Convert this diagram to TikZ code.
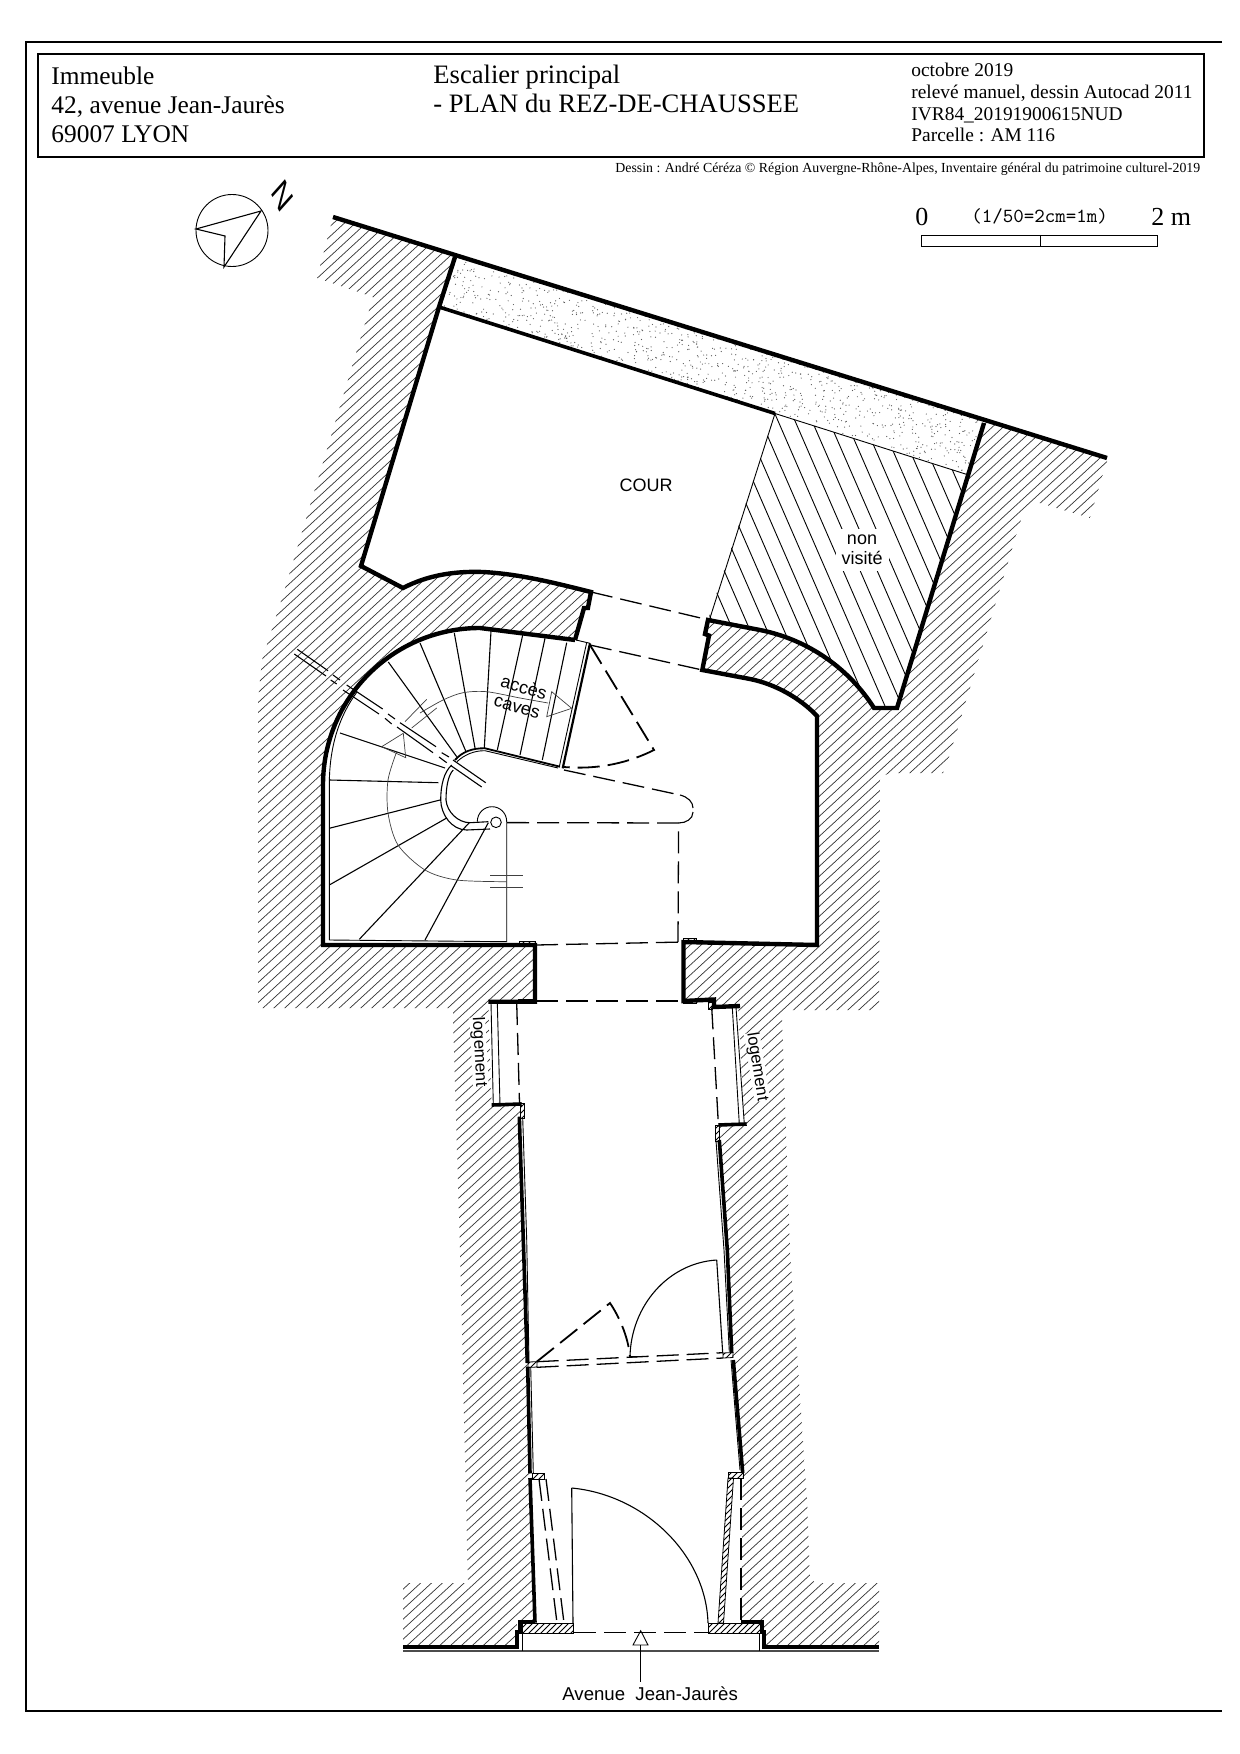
\documentclass[tikz,border=0pt]{standalone}
\usepackage{fontspec}
\setmainfont{Liberation Serif}
\setsansfont{Liberation Sans}
\usetikzlibrary{patterns}
\newcommand{\fs}[1]{\fontsize{#1}{#1}\selectfont}

\begin{document}
\begin{tikzpicture}[x=0.5pt, y=-0.5pt,
	frameline/.style = {line width=0.9pt},
	wall/.style = {line width=2.2pt, line join=miter},
	wallb/.style = {line width=1.8pt, line join=miter},
	fine/.style = {line width=0.45pt},
	step line/.style = {line width=0.55pt},
	walk/.style = {line width=0.35pt, black!75},
	hatchline/.style = {line width=0.35pt, black!80},
	dashline/.style = {line width=0.65pt, dash pattern=on 11pt off 4pt},
	doorline/.style = {line width=0.9pt, dash pattern=on 11pt off 4pt},
	jamb/.style = {draw, line width=0.4pt, pattern=north east lines},
	serif/.style = {anchor=base west, inner sep=0pt},
	label/.style = {font=\sffamily\fs{9}, inner sep=0pt}]
	\useasboundingbox (0,0) rectangle (1240,1754);

	\draw[frameline] (1222,42) -- (26,42) -- (26,1711) -- (1222,1711);
	\draw[frameline] (38,54) rectangle (1204,157);

	\node[serif, font=\fs{12.7}] (imm1) at (51,85) {Immeuble};
	\node[serif, font=\fs{12.7}] (imm2) at (51,114) {42, avenue Jean-Jaurès};
	\node[serif, font=\fs{12.7}] (imm3) at (51,143) {69007 LYON};
	\node[serif, font=\fs{13.3}] (esc1) at (433,84) {Escalier principal};
	\node[serif, font=\fs{13.3}] (esc2) at (433,113) {- PLAN du REZ-DE-CHAUSSEE};
	\node[serif, font=\fs{9.7}] (info1) at (911,77) {octobre 2019};
	\node[serif, font=\fs{9.7}] (info2) at (911,99) {relevé manuel, dessin Autocad 2011};
	\node[serif, font=\fs{9.7}] (info3) at (911,121) {IVR84\_20191900615NUD};
	\node[serif, font=\fs{9.7}] (info4) at (911,142) {Parcelle : AM 116};
	\node[serif, font=\fs{6.92}] (credit) at (615,173) {Dessin : André Céréza © Région Auvergne-Rhône-Alpes, Inventaire général du patrimoine culturel-2019};

	\draw[fine] (232,230.5) circle[radius=36];
	\draw[step line] (224,267) -- (261,211) -- (196,229) -- (225,236) -- cycle;
	\node[font=\sffamily\fs{19}, xscale=0.65, rotate=-54, inner sep=0pt] (north) at (283,196) {N};

	\node[serif, font=\fs{13}] (zero) at (915,226) {0};
	\node[anchor=base west, inner sep=0pt, font=\ttfamily\fs{10}] (ratio) at (971,223) {(1/50=2cm=1m)};
	\node[serif, font=\fs{13}] (twom) at (1151,226) {2 m};
	\draw[fine] (921,235) rectangle (1157,246);
	\draw[fine] (1040,235) -- (1040,246);

	\begin{scope}
		\clip (333,217) -- (317,278) -- (373,297) -- (283,595) -- (262,660) -- (258,700) -- (258,1008) -- (453,1008) -- (453,1018) -- (460,1250) -- (468,1583) -- (403,1583) -- (403,1647) -- (879,1647) -- (879,1583) -- (819,1583) -- (810,1580) -- (807,1500) -- (790,1250) -- (782,1018) -- (787,1010) -- (879,1010) -- (880,777) -- (890,773) -- (943,773) -- (950,754) -- (1023,513) -- (1033,501) -- (1090,518) -- (1103,474) -- (1108,458) -- cycle;
		\foreach \c in {470,480,...,2900}
			\draw[hatchline] (200,\c-184) -- (1200,\c-1104);
	\end{scope}

	\fill[white] (455,257) -- (984,423) -- (897,708) -- (874,708) .. controls (850,670) and (810,640) .. (760,630) -- (708,620) -- (705,634) -- (709,635.6) -- (702.3,670) -- (750,679) .. controls (775,684) and (800,698) .. (817,716) -- (817,945) -- (683.5,942) -- (683.5,1001) -- (714,999.5) -- (714,1007) -- (738,1006) -- (744.3,1124) -- (718.3,1125) -- (731.7,1353) -- (742.7,1473) -- (741,1622) -- (535,1622) -- (520,1105) -- (491.7,1105) -- (488.3,1001.7) -- (535,1001.7) -- (535,945) -- (323,945) -- (323,785) .. controls (323,698) and (393,628) .. (480,628) -- (575,640) -- (584,608) -- (587.9,608) -- (591,592) .. controls (555,583) and (520,574) .. (483,572) .. controls (455,571) and (428,575) .. (403,588) -- (361,566) -- (439,307) -- cycle;
	\fill[white] (517,1620) rectangle (763,1651);

	\begin{scope}
		\clip (775,413.5) -- (967,474.5) -- (897,708) -- (874,708) .. controls (850,670) and (810,640) .. (760,630) -- (708,620) -- cycle;
		\foreach \c in {425,442,...,770}
			\draw[fine] ({\c+400/2.3},400) -- ({\c+720/2.3},720);
	\end{scope}
	\draw[fine] (775,413.5) -- (710,618);

	\pgfmathsetseed{4217}
	\foreach \i in {1,...,850} {
		\pgfmathsetmacro{\du}{rnd}
		\pgfmathsetmacro{\dv}{rnd}
		\fill[black!65] ({455+529*\du-16*\dv},{257+166*\du+50*\dv}) circle[radius=0.6];
	}

	\draw[wall] (333,217) -- (1107,458);
	\draw[wall] (455,257) -- (439,307) -- (361,566) -- (403,588) .. controls (428,575) and (455,571) .. (483,572) .. controls (520,574) and (555,583) .. (591,592) -- (587.9,608) -- (584,608) -- (575,640);
	\draw[wallb] (439,307) -- (775,413.5);
	\draw[fine] (775,413.5) -- (967,474.5);
	\draw[wall] (575,640) -- (480,628) .. controls (393,628) and (323,698) .. (323,785) -- (323,945) -- (535,945) -- (535,1001.7) -- (488.3,1001.7);
	\draw[wall] (984,423) -- (897,708) -- (874,708) .. controls (850,670) and (810,640) .. (760,630) -- (708,620) -- (705,634) -- (709,635.6) -- (702.3,670) -- (750,679) .. controls (775,684) and (800,698) .. (817,716) -- (817,945) -- (683.5,942) -- (683.5,1001) -- (714,999.5) -- (714,1007) -- (740,1006);

	\draw[fine] (329.3,940) -- (329.3,785) .. controls (329.3,745) and (340,715) .. (357,692);
	\draw[fine] (329.3,940) -- (506.7,941.7) -- (506.7,821.7) .. controls (506.7,813) and (500,806.7) .. (492,806.7) .. controls (484,806.7) and (477.3,813) .. (477.3,821.7);
	\draw[fine] (496,822.3) circle[radius=5.3];
	\foreach \xa/\ya/\xb/\yb in {566.7/642.7/542.3/760, 545/638.3/520/755, 522.7/635/497.3/750, 491/631/484.3/748, 454.3/633/475/748, 420/643/466/751.7, 388.3/662/456.7/756.7, 340/733/445/768, 329.3/780/438.3/782.7, 329.3/828.3/440/800, 329.3/885/446.7/818, 359.3/939.3/469.3/822.7, 425/940/488.3/822.7}
		\draw[step line] (\xa,\ya) -- (\xb,\yb);

	\draw[line width=0.9pt] (455,760) .. controls (462,752) and (472,748) .. (485,748.3) -- (560,766.7);
	\draw[fine] (457,761.7) .. controls (464,755) and (474,750.5) .. (485,750.7) -- (558,768);
	\draw[line width=1.1pt] (590,643.3) -- (562.7,768.3);
	\draw[fine] (586.7,642.5) -- (559.3,766.7);
	\draw[fine] (576,640) -- (590,643.3);
	\draw[step line] (451.7,765) .. controls (444,772) and (440.7,785) .. (440.7,800) .. controls (441,815) and (452,830) .. (466.7,830) -- (490,829);
	\draw[step line] (453.3,770) .. controls (448,775) and (446,788) .. (446,800) .. controls (447,812) and (458,822.7) .. (470,822.7) -- (488.3,821.7);

	\draw[walk] plot[smooth] coordinates {(506.7,881.7) (456.7,880) (425,870) (398,845) (388,813) (388,780) (396.7,751.7)};
	\draw[walk] plot[smooth] coordinates {(420,713) (443,700) (463,692.7) (486.7,691.7) (520,698) (548,703)};
	\draw[walk] (381.7,746.7) -- (403.3,733.3) -- (405.7,757.7) -- cycle;
	\draw[walk] (551.7,691.7) -- (546.7,716.7) -- (571.7,708.3) -- cycle;
	\draw[walk] (405,721.7) -- (426.7,699.3);
	\draw[walk] (411.7,728) -- (436.7,708);
	\draw[walk] (490,875) -- (522.7,875);
	\draw[walk] (490,887.3) -- (522.7,887.3);

	\foreach \xa/\ya/\xb/\yb in {297.3/649.3/328/670.7, 333/675/340/680, 346.7/685/382.7/709, 388/714/395/719, 400/722.7/436/746.7, 441.7/752.7/449/757, 453/760/485.7/782.7, 294.3/654/326/676, 330.7/680/336.7/684, 343/690/379/714, 385/718.3/391.7/724, 397/727/433/752.7, 439/757/446.7/762.7, 451/765.7/481.7/787}
		\draw[step line] (\xa,\ya) -- (\xb,\yb);

	\draw[dashline] (591,592) -- (709,620);
	\draw[dashline] (590,645) -- (702.3,670);
	\draw[dashline] (564,770) -- (680,795);
	\draw[step line] (680,795) .. controls (688,797) and (693,802) .. (693,808);
	\draw[step line] (693,812) .. controls (693,819) and (686,823) .. (678.6,823);
	\draw[dashline] (507,822.6) -- (678.6,823) -- (678,942);
	\draw[dashline] (536,945) -- (684,942);
	\draw[dashline] (536,1001) -- (683,1001);
	\draw[doorline] (590,645) -- (654,750) .. controls (630,762) and (600,770) .. (564,767);

	\draw[jamb] (519.6,941) rectangle (535,945);
	\draw[jamb] (683,938) rectangle (696,942);
	\draw[jamb] (518,999) rectangle (535,1003);
	\draw[jamb] (683,1000) rectangle (696,1003);
	\draw[jamb] (708,1002) rectangle (712.6,1009);

	\draw[fine] (491,1002.7) -- (493.3,1105);
	\draw[fine] (497.3,1002.7) -- (500,1105);
	\draw[fine] (732.3,1007.3) -- (739.3,1124);
	\draw[fine] (736,1007.3) -- (744.3,1124);
	\draw[dashline] (516.7,1003) -- (519.5,1103);
	\draw[dashline] (711.7,1007.3) -- (718.3,1123);
	\draw[wallb] (491.7,1105) -- (521.7,1104);
	\draw[wallb] (718.3,1125) -- (746.7,1124);
	\draw[jamb] (520,1103) rectangle (524,1118);
	\draw[jamb] (715,1125) rectangle (719,1141);

	\draw[wallb] (519.3,1116.7) -- (523.3,1240) -- (527.3,1363);
	\draw[fine] (522.7,1118) -- (526.7,1240) -- (529,1361.7);
	\draw[wallb] (527.7,1366.7) -- (530,1473.3);
	\draw[fine] (530.7,1367) -- (533.3,1473);
	\draw[wallb] (530,1478) -- (535,1622.7);
	\draw[wallb] (719.3,1140) -- (727.3,1250) -- (731.7,1353);
	\draw[fine] (716,1140.7) -- (724,1250) -- (729.3,1351.7);
	\draw[wallb] (733.3,1360) -- (742.7,1473);
	\draw[fine] (731,1360) -- (740,1470);

	\draw[step line] (716.7,1260) -- (722.7,1353);
	\draw[step line] (716.7,1260) .. controls (668,1263) and (631,1306) .. (630,1356.7) -- (637,1356.7);
	\draw[doorline] (536.7,1361.7) -- (610,1303) .. controls (618,1315) and (628,1335) .. (630,1356.7);
	\draw[dashline] (536.7,1361.7) -- (723,1352.7);
	\draw[dashline] (536.7,1367.3) -- (723,1358);
	\draw[jamb] (528,1362) -- (537,1361.7) -- (537,1367) -- (528,1367.5) -- cycle;
	\draw[jamb] (723,1353) -- (733,1352.5) -- (733,1357.5) -- (723,1358) -- cycle;

	\draw[jamb] (532,1473) rectangle (544,1479);
	\draw[dashline] (539,1479) -- (557,1623);
	\draw[dashline] (546,1479) -- (564,1623);
	\draw[step line] (571.7,1488) -- (573,1623);
	\draw[step line] (571.7,1488) .. controls (645,1495) and (706,1555) .. (708,1623);
	\draw[jamb] (728,1478) -- (733.5,1478) -- (723.5,1623) -- (718,1623) -- cycle;
	\draw[jamb] (728,1472) rectangle (743,1478);
	\draw[doorline] (741,1478) -- (741,1622);
	\draw[jamb] (522,1623) rectangle (573,1633);
	\draw[jamb] (708,1623) rectangle (760,1633);

	\draw[wall] (535,1622) -- (520,1622) -- (520,1632) -- (517,1632) -- (517,1647) -- (403,1647);
	\draw[wall] (741,1622) -- (762,1622) -- (762,1632) -- (764,1632) -- (764,1647) -- (879,1647);
	\draw[step line, black!70] (403,1651) -- (879,1651);
	\draw[fine] (522,1633) -- (522,1651);
	\draw[fine] (759,1633) -- (759,1651);
	\draw[dashline] (574,1632.7) -- (708,1632.7);
	\draw[fine] (640.7,1630.7) -- (633,1645) -- (648,1645) -- cycle;
	\draw[fine] (640.7,1645) -- (640.7,1681.7);

	\node[label] (cour) at (646,485) {COUR};
	\node[label, fill=white, align=center, inner sep=3pt] (nonvisite) at (862,550) {non\\[1pt]visité};
	\node[label, rotate=-16] (acces) at (524,687) {accès};
	\node[label, rotate=-16] (caves) at (516.7,707.7) {caves};
	\node[label, font=\sffamily\fs{8.4}, rotate=-87, fill=white] (logementa) at (479,1052) {logement};
	\node[label, font=\sffamily\fs{8.4}, rotate=-81, fill=white] (logementb) at (757,1067) {logement};
	\node[anchor=base west, inner sep=0pt, font=\sffamily\fs{9.3}] (avenue) at (562,1700.7) {Avenue\ \ Jean-Jaurès};
\end{tikzpicture}
\end{document}
